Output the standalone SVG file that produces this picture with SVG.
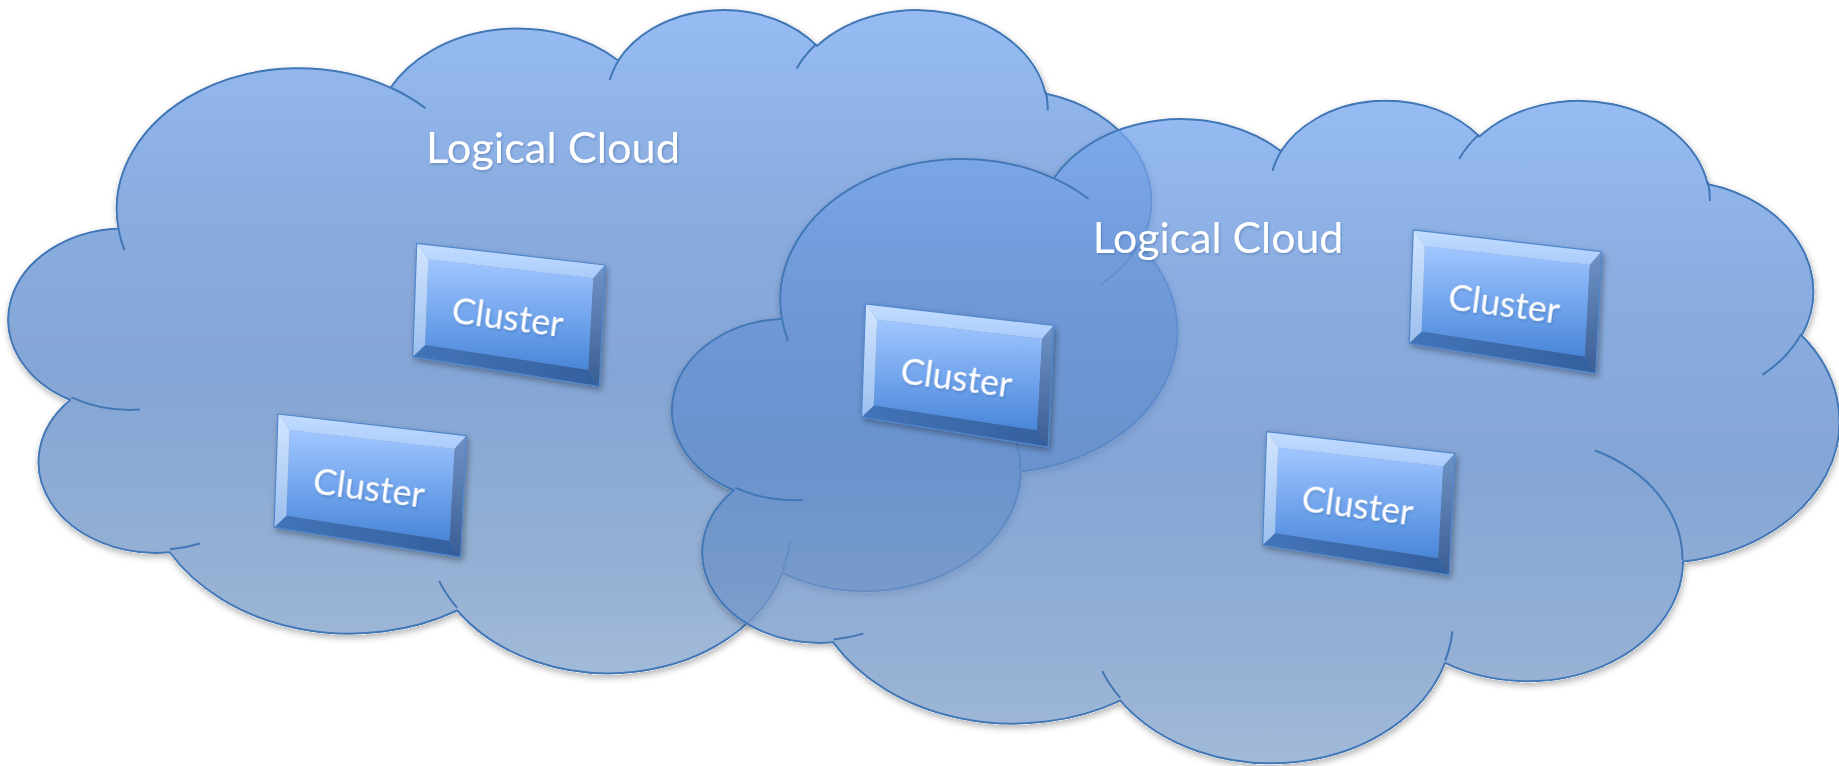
<svg xmlns="http://www.w3.org/2000/svg" width="1839" height="766" viewBox="0 0 1839 766">
  <defs>
    <style>
      .cloud-body { fill: url(#cloudFill); fill-opacity: 0.78; stroke: #4377b6; stroke-width: 2; vector-effect: non-scaling-stroke; stroke-linejoin: round; }
      .cloud-seam { fill: none; stroke: #4377b6; stroke-width: 2; vector-effect: non-scaling-stroke; }
      .cloud-label { font-family: Lato, "Open Sans", "Liberation Sans", sans-serif; font-size: 43px; fill: #ffffff; filter: url(#textShadow); }
      .cluster-label { font-family: Lato, "Open Sans", "Liberation Sans", sans-serif; font-size: 37px; fill: #ffffff; filter: url(#textShadow); }
    </style>

    <!-- cloud body: vertical blue gradient -->
    <linearGradient id="cloudFill" x1="0" y1="0" x2="0" y2="1">
      <stop offset="0" stop-color="#78a9f0"/>
      <stop offset="0.25" stop-color="#6b97da"/>
      <stop offset="0.55" stop-color="#618cca"/>
      <stop offset="0.85" stop-color="#789ac8"/>
      <stop offset="1" stop-color="#88a7ce"/>
    </linearGradient>

    <!-- bevelled button gradients -->
    <linearGradient id="faceFill" x1="0" y1="0" x2="0" y2="1">
      <stop offset="0" stop-color="#a2c7ff"/>
      <stop offset="0.55" stop-color="#6fa3ec"/>
      <stop offset="1" stop-color="#4a86d8"/>
    </linearGradient>
    <linearGradient id="bevelTop" x1="0" y1="0" x2="0" y2="1">
      <stop offset="0" stop-color="#c3ddff"/>
      <stop offset="1" stop-color="#aacbfb"/>
    </linearGradient>
    <linearGradient id="bevelLeft" x1="0" y1="0" x2="0" y2="1">
      <stop offset="0" stop-color="#d2e6ff"/>
      <stop offset="1" stop-color="#9cbfee"/>
    </linearGradient>
    <linearGradient id="bevelRight" x1="0" y1="0" x2="0" y2="1">
      <stop offset="0" stop-color="#6f92c6"/>
      <stop offset="1" stop-color="#3a5d93"/>
    </linearGradient>
    <linearGradient id="bevelBottom" x1="0" y1="0" x2="1" y2="0">
      <stop offset="0" stop-color="#4274b8"/>
      <stop offset="1" stop-color="#35609e"/>
    </linearGradient>

    <!-- soft shadow that only shows outside the shape -->
    <filter id="cloudShadow" x="-3%" y="-3%" width="106%" height="110%">
      <feComponentTransfer in="SourceAlpha" result="solid">
        <feFuncA type="linear" slope="20"/>
      </feComponentTransfer>
      <feGaussianBlur in="solid" stdDeviation="3" result="blur"/>
      <feOffset in="blur" dx="1" dy="3" result="off"/>
      <feFlood flood-color="#000000" flood-opacity="0.28"/>
      <feComposite in2="off" operator="in" result="sh"/>
      <feComposite in="sh" in2="solid" operator="out" result="shOut"/>
      <feMerge>
        <feMergeNode in="shOut"/>
        <feMergeNode in="SourceGraphic"/>
      </feMerge>
    </filter>
    <filter id="buttonShadow" x="-10%" y="-10%" width="125%" height="130%">
      <feDropShadow dx="2" dy="3" stdDeviation="3" flood-color="#000000" flood-opacity="0.35"/>
    </filter>
    <filter id="textShadow" x="-5%" y="-20%" width="110%" height="150%">
      <feDropShadow dx="1" dy="1.5" stdDeviation="1" flood-color="#1f3c66" flood-opacity="0.3"/>
    </filter>

    <!-- bevelled rectangle, seen slightly tilted in perspective -->
    <g id="bevel">
      <polygon points="11.6,16 176.6,35 171.6,126.7 8.3,101.7" fill="url(#faceFill)"/>
      <polygon points="0,0 188.3,21.7 176.6,35 11.6,16" fill="url(#bevelTop)"/>
      <polygon points="188.3,21.7 182.6,143.4 171.6,126.7 176.6,35" fill="url(#bevelRight)"/>
      <polygon points="182.6,143.4 -4,113.4 8.3,101.7 171.6,126.7" fill="url(#bevelBottom)"/>
      <polygon points="-4,113.4 0,0 11.6,16 8.3,101.7" fill="url(#bevelLeft)"/>
      <polygon points="0,0 188.3,21.7 182.6,143.4 -4,113.4" fill="none" stroke="#4f86cc" stroke-width="1.2" stroke-linejoin="round"/>
    </g>
  </defs>

  <rect width="1839" height="766" fill="#ffffff"/>

  <!-- left cloud -->
  <g id="cloud-left" filter="url(#cloudShadow)">
    <g transform="translate(13.3,7.8) scale(0.026938,0.015350)">
      <path class="cloud-body" d="M3900 14370 A6753 9190 0 0 1 14005 5202 A5333 7267 0 0 1 22456 3433 A4365 5945 0 0 1 29833 2482 A4857 6595 0 0 1 38319 5577 A5333 7273 0 0 1 41819 15461 A6775 9220 0 0 1 37403 30201 A5785 7867 0 0 1 28555 36811 A6752 9215 0 0 1 16481 39265 A7720 10543 0 0 1 5804 35470 A4360 5918 0 0 1 2111 25551 A4345 5945 0 0 1 3900 14370 Z"/>
      <path class="cloud-seam" d="M4693 26177 A4345 5945 0 0 1 2160 25380 M6928 34899 A4360 5918 0 0 1 5820 35280 M16478 39090 A6752 9215 0 0 1 15809 37348 M28827 34751 A6752 9215 0 0 1 28560 36660 M34129 22954 A5785 7867 0 0 1 37381 30090 M41798 15354 A5333 7273 0 0 1 40350 18030 M38324 5426 A4857 6595 0 0 1 38400 6690 M29078 3952 A4857 6595 0 0 1 29820 2340 M22141 4720 A4365 5945 0 0 1 22500 3330 M14000 5192 A6753 9190 0 0 1 15301 6542 M4127 15789 A6753 9190 0 0 1 3900 14371"/>
    </g>
    <text class="cloud-label" x="426" y="162.5" textLength="254" lengthAdjust="spacingAndGlyphs">Logical Cloud</text>
  </g>

  <!-- right cloud -->
  <g id="cloud-right" filter="url(#cloudShadow)">
    <g transform="translate(677,98.5) scale(0.026898,0.015333)">
      <path class="cloud-body" d="M3900 14370 A6753 9190 0 0 1 14005 5202 A5333 7267 0 0 1 22456 3433 A4365 5945 0 0 1 29833 2482 A4857 6595 0 0 1 38319 5577 A5333 7273 0 0 1 41819 15461 A6775 9220 0 0 1 37403 30201 A5785 7867 0 0 1 28555 36811 A6752 9215 0 0 1 16481 39265 A7720 10543 0 0 1 5804 35470 A4360 5918 0 0 1 2111 25551 A4345 5945 0 0 1 3900 14370 Z"/>
      <path class="cloud-seam" d="M4693 26177 A4345 5945 0 0 1 2160 25380 M6928 34899 A4360 5918 0 0 1 5820 35280 M16478 39090 A6752 9215 0 0 1 15809 37348 M28827 34751 A6752 9215 0 0 1 28560 36660 M34129 22954 A5785 7867 0 0 1 37381 30090 M41798 15354 A5333 7273 0 0 1 40350 18030 M38324 5426 A4857 6595 0 0 1 38400 6690 M29078 3952 A4857 6595 0 0 1 29820 2340 M22141 4720 A4365 5945 0 0 1 22500 3330 M14000 5192 A6753 9190 0 0 1 15301 6542 M4127 15789 A6753 9190 0 0 1 3900 14371"/>
    </g>
    <text class="cloud-label" x="1092.7" y="253.3" textLength="250.6" lengthAdjust="spacingAndGlyphs">Logical Cloud</text>
  </g>

  <g id="connectors"/>

  <!-- clusters -->
  <g id="cluster-1" transform="translate(416.7,243.3)">
    <use href="#bevel" filter="url(#buttonShadow)"/>
    <text class="cluster-label" text-anchor="middle" textLength="112" lengthAdjust="spacingAndGlyphs" transform="translate(89.3,86.5) rotate(7.5)">Cluster</text>
  </g>
  <g id="cluster-2" transform="translate(278,414)">
    <use href="#bevel" filter="url(#buttonShadow)"/>
    <text class="cluster-label" text-anchor="middle" textLength="112" lengthAdjust="spacingAndGlyphs" transform="translate(89.3,86.5) rotate(7.5)">Cluster</text>
  </g>
  <g id="cluster-3" transform="translate(865.5,303.8)">
    <use href="#bevel" filter="url(#buttonShadow)"/>
    <text class="cluster-label" text-anchor="middle" textLength="112" lengthAdjust="spacingAndGlyphs" transform="translate(89.3,86.5) rotate(7.5)">Cluster</text>
  </g>
  <g id="cluster-4" transform="translate(1413.2,229.9)">
    <use href="#bevel" filter="url(#buttonShadow)"/>
    <text class="cluster-label" text-anchor="middle" textLength="112" lengthAdjust="spacingAndGlyphs" transform="translate(89.3,86.5) rotate(7.5)">Cluster</text>
  </g>
  <g id="cluster-5" transform="translate(1266.6,431.6)">
    <use href="#bevel" filter="url(#buttonShadow)"/>
    <text class="cluster-label" text-anchor="middle" textLength="112" lengthAdjust="spacingAndGlyphs" transform="translate(89.3,86.5) rotate(7.5)">Cluster</text>
  </g>
</svg>
